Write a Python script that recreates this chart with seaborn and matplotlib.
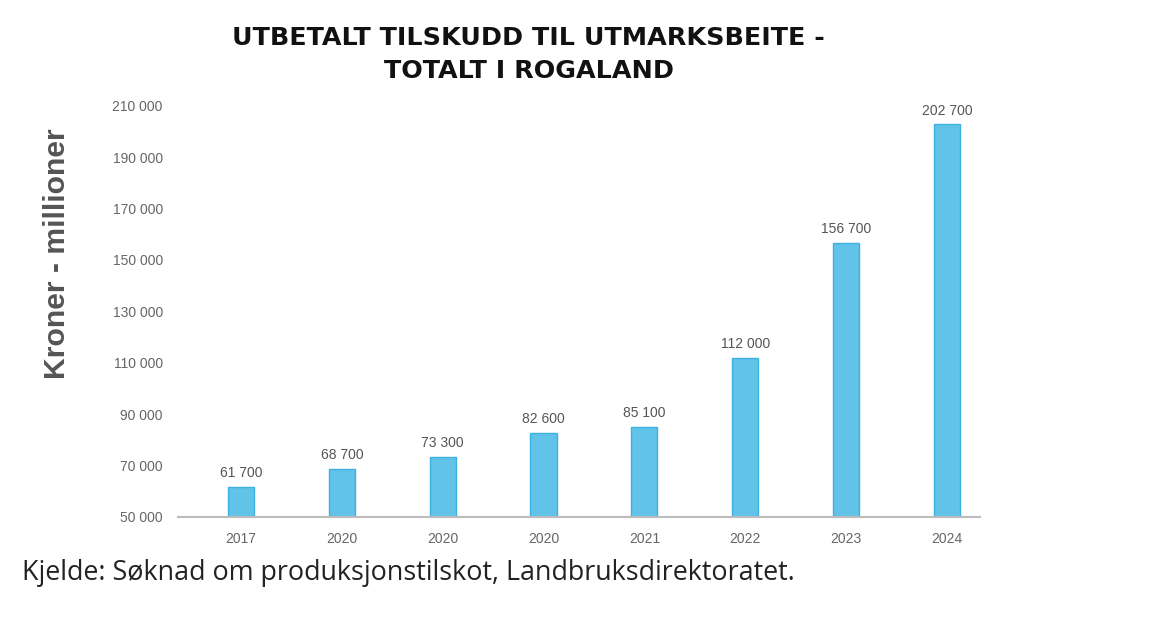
import seaborn as sns
import numpy as np
import pandas as pd
from matplotlib import pyplot as plt

# data
years = ['2017', '2020', '2020', '2020', '2021', '2022', '2023', '2024']
values = [61700, 68700, 73300, 82600, 85100, 112000, 156700, 202700]
y_ticks = [50000, 70000, 90000, 110000, 130000, 150000, 170000, 190000, 210000]


def fmt(v):
    return '{:,}'.format(v).replace(',', ' ')


sns.set_style('white')
plt.rcParams['font.family'] = ['Liberation Sans', 'DejaVu Sans']

df = pd.DataFrame({'pos': range(len(years)), 'value': values})

fig = plt.figure(figsize=(11.72, 6.22), dpi=100)
ax = fig.add_axes([0.152, 0.169, 0.684, 0.661])

sns.barplot(data=df, x='pos', y='value', ax=ax, color='#62C3E9',
            width=0.26, edgecolor='#3DB2E2', linewidth=1, saturation=1,
            native_scale=True)

for i, v in enumerate(values):
    ax.text(i, v + 2600, fmt(v), ha='center', va='bottom',
            fontsize=10, color='#555555')

ax.set_ylim(50000, 210000)
ax.set_xlim(-0.624, 7.327)
ax.set_yticks(y_ticks)
ax.set_yticklabels([fmt(t) for t in y_ticks], fontsize=10, color='#666666')
ax.set_xticks(range(len(years)))
ax.set_xticklabels(years, fontsize=10, color='#666666')
ax.tick_params(axis='y', length=0, pad=11)
ax.tick_params(axis='x', length=0, pad=11)
ax.set_xlabel('')
ax.set_ylabel('Kroner - millioner', fontsize=21.7, fontweight='bold',
              color='#555555')
ax.yaxis.set_label_coords(-0.134, 0.64)

sns.despine(ax=ax, left=True)
ax.spines['bottom'].set_color('#BBBBBB')
ax.spines['bottom'].set_linewidth(1.5)

fig.text(0.451, 0.912, 'UTBETALT TILSKUDD TIL UTMARKSBEITE -\nTOTALT I ROGALAND',
         ha='center', va='center', fontsize=18.3, fontweight='bold',
         family=['DejaVu Sans'], color='#111111', linespacing=1.45)

fig.text(0.019, 0.079, 'Kjelde: Søknad om produksjonstilskot, Landbruksdirektoratet.',
         ha='left', va='center', fontsize=19.4, family=['Open Sans', 'DejaVu Sans'],
         color='#222222')

plt.savefig('out.png', dpi=100)
